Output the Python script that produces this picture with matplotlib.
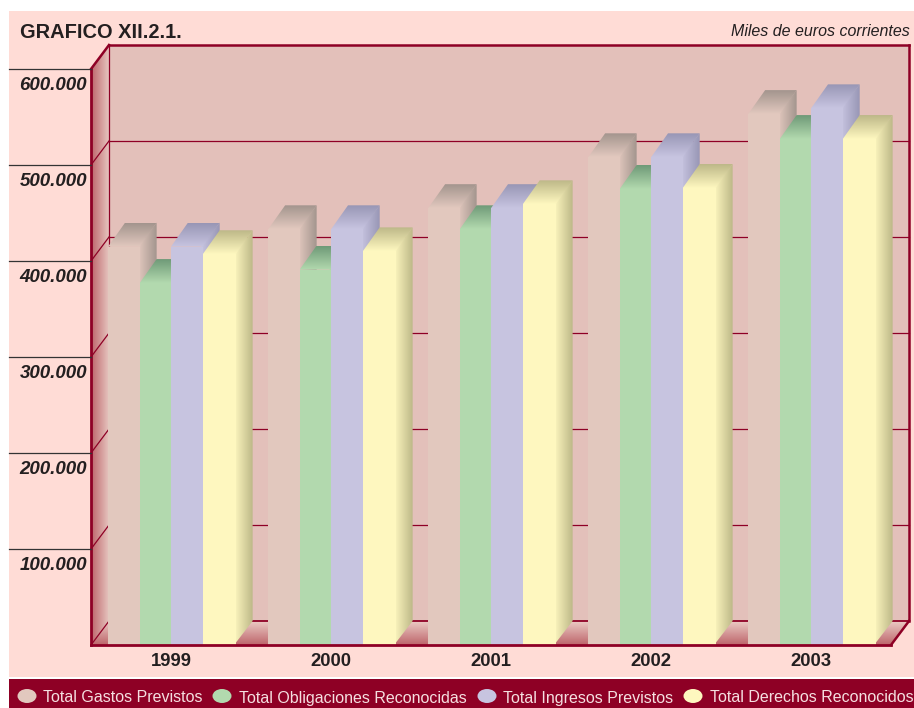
#!/usr/bin/python
# grafico XII.2.1 -- presupuesto 1999-2003, fake 3d columns

import numpy as np
import matplotlib
matplotlib.use('Agg')
import matplotlib.pyplot as plt
from matplotlib.colors import LinearSegmentedColormap
from matplotlib.patches import Ellipse, Polygon, Rectangle

years = ['1999', '2000', '2001', '2002', '2003']
gastos = [415000, 433000, 455000, 508000, 553000]
obligaciones = [377000, 391000, 433000, 475000, 527000]
ingresos = [415000, 433000, 455000, 508000, 559000]
derechos = [407000, 410000, 459000, 476000, 527000]
yticks = [100000, 200000, 300000, 400000, 500000, 600000]
ylabels = ['100.000', '200.000', '300.000', '400.000', '500.000', '600.000']
names = ['Total Gastos Previstos', 'Total Obligaciones Reconocidas',
         'Total Ingresos Previstos', 'Total Derechos Reconocidos']

W, H = 914, 708
RED = '#8e0025'
PANEL = '#ffdcd6'
WALL = '#e3c0ba'
FRONT = ['#e2c8be', '#b2d9ae', '#c7c4e0', '#fef7bf']
DARK = ['#a3958e', '#6f9a78', '#9896b5', '#bdb888']
FONT = 'Liberation Sans'

# depth of the fake 3d, in data units (18 px right, 24 px up)
DX = 18 / 160.
DY = 25000.
BARDX = 17 / 160.
# edges of the four columns inside one category
EDGES = [0.107, 0.304, 0.500, 0.698, 0.904]
YMAX = 600000.

plt.rcParams['font.family'] = FONT
fig = plt.figure(figsize=(W / 100., H / 100.), dpi=100, facecolor='white')


def figx(px):
    return px / float(W)


def figy(py):
    return 1 - py / float(H)


fig.patches.append(Rectangle((figx(9), figy(677)), figx(905), 666 / float(H), transform=fig.transFigure,
                             facecolor=PANEL, edgecolor='none', zorder=-5))
fig.patches.append(Rectangle((figx(9), 0), figx(905), 29 / float(H), transform=fig.transFigure,
                             facecolor=RED, edgecolor='none', zorder=-5))

# front plane of the chart: 91..891 px across, 645..69 px down
ax = fig.add_axes([figx(91), figy(645), 800 / float(W), 576 / float(H)])
ax.axis('off')
ax.patch.set_alpha(0)


def gradient(verts, c0, c1, vertical=False, zorder=1):
    # fill a polygon with a linear gradient, c0 at low end, c1 at high end
    xs = [v[0] for v in verts]
    ys = [v[1] for v in verts]
    cmap = LinearSegmentedColormap.from_list('g', [c0, c1])
    ramp = np.linspace(0, 1, 64)
    ramp = ramp.reshape(-1, 1) if vertical else ramp.reshape(1, -1)
    im = ax.imshow(ramp, cmap=cmap, extent=(min(xs), max(xs), min(ys), max(ys)), origin='lower',
                   aspect='auto', zorder=zorder, interpolation='bilinear')
    # images stop at the axes box unless told otherwise, the depth sticks out of it
    im.set_clip_box(fig.bbox)
    im.set_clip_path(Polygon(verts, closed=True, transform=ax.transData))


# back wall, left wall, floor
ax.add_patch(Rectangle((DX, DY), 5, YMAX, facecolor=WALL, edgecolor='none', zorder=0, clip_on=False))
gradient([(0, 0), (DX, DY), (DX, YMAX + DY), (0, YMAX)], '#bd656b', '#e6c4be')
gradient([(0, 0), (5, 0), (5 + DX, DY), (DX, DY)], '#bd656b', '#ebcac4', vertical=True)

# gridlines on the walls
for t in yticks[:-1]:
    ax.plot([DX, 5 + DX], [t + DY, t + DY], color=RED, lw=0.9, zorder=2, clip_on=False)
for t in [0] + yticks[:-1]:
    ax.plot([0, DX], [t, t + DY], color=RED, lw=0.9, zorder=2, clip_on=False)
ax.plot([DX, DX], [DY, YMAX + DY], color=RED, lw=0.9, zorder=2, clip_on=False)
ax.plot([DX, 5 + DX], [DY, DY], color=RED, lw=1.3, zorder=2, clip_on=False)

# bars, left to right so the next front covers the previous side
series = [gastos, obligaciones, ingresos, derechos]
z = 3
for g in range(len(years)):
    for s, vals in enumerate(series):
        x0 = g + EDGES[s]
        x1 = g + EDGES[s + 1]
        v = vals[g]
        # side starts a little behind the front so no gridline leaks through the seam
        gradient([(x1 - 0.01, 0), (x1 + BARDX, DY), (x1 + BARDX, v + DY), (x1 - 0.01, v)], FRONT[s], DARK[s],
                 zorder=z)
        gradient([(x0, v), (x1, v), (x1 + BARDX, v + DY), (x0 + BARDX, v + DY)], FRONT[s], DARK[s], vertical=True,
                 zorder=z + 1)
        ax.bar(x0, v, x1 - x0, align='edge', color=FRONT[s], edgecolor='none', zorder=z + 2)
        z += 3

# frame on top of the walls
TOP = z + 1
ax.plot([0, 0], [0, YMAX], color=RED, lw=2.0, zorder=TOP, clip_on=False, solid_capstyle='projecting')
ax.plot([0, 5], [0, 0], color=RED, lw=2.0, zorder=TOP, clip_on=False, solid_capstyle='projecting')
ax.plot([0, DX], [YMAX, YMAX + DY], color=RED, lw=1.8, zorder=TOP, clip_on=False)
ax.plot([DX, 5 + DX], [YMAX + DY, YMAX + DY], color=RED, lw=1.8, zorder=TOP, clip_on=False)
ax.plot([5 + DX, 5 + DX], [DY, YMAX + DY], color=RED, lw=1.8, zorder=TOP, clip_on=False)
ax.plot([5, 5 + DX], [0, DY], color=RED, lw=1.8, zorder=TOP, clip_on=False)

ax.set_xlim(0, 5)
ax.set_ylim(0, YMAX)

# tick marks to the left and their labels, hanging under the mark
for t, lab in zip(yticks, ylabels):
    ax.plot([-82 / 160., 0], [t, t], color='#333333', lw=0.9, clip_on=False, zorder=TOP)
    ax.annotate(lab, (0, t), xytext=(-4, -16), textcoords='offset pixels', ha='right', va='center',
                fontsize=13.5, fontweight='bold', fontstyle='italic', color='#231f20', annotation_clip=False)

for g, yr in enumerate(years):
    ax.annotate(yr, (g + 0.5, 0), xytext=(0, -16), textcoords='offset pixels', ha='center', va='center',
                fontsize=13.3, fontweight='bold', color='#231f20', annotation_clip=False)

# header
fig.text(figx(20.5), figy(32), 'GRAFICO XII.2.1.', fontsize=14.4, fontweight='bold', color='#231f20', va='center')
fig.text(figx(910), figy(31), 'Miles de euros corrientes', fontsize=11.5, fontstyle='italic', color='#231f20',
         va='center', ha='right')

# legend strip
marks = [27, 222, 487, 693]
starts = [43, 239, 503, 710]
for m, st, c, name in zip(marks, starts, FRONT, names):
    fig.patches.append(Ellipse((figx(m), figy(696)), 19. / W, 14. / H, transform=fig.transFigure,
                               facecolor=c, edgecolor='none', zorder=2))
    fig.text(figx(st), figy(698), name, fontsize=11.5, color='#f5dfe0', va='center')

fig.savefig('out.png', dpi=100, facecolor='white')
